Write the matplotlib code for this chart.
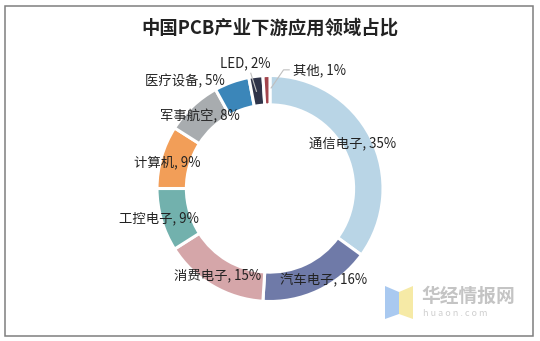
import matplotlib.pyplot as plt
from matplotlib.patches import Polygon, Rectangle

plt.rcParams['font.family'] = ['Noto Sans CJK SC', 'DejaVu Sans']

# 中国PCB下游应用领域占比
sectors = ['通信电子', '汽车电子', '消费电子', '工控电子', '计算机',
           '军事航空', '医疗设备', 'LED', '其他']
shares = [35, 16, 15, 9, 9, 8, 5, 2, 1]
colors = ['#b9d5e6', '#6f7aa8', '#d5a6a9', '#72b1ad', '#f29e58',
          '#a8acaf', '#3b86b9', '#2f3449', '#a2444c']

# label centres in pie units (radius 1 = outer edge)
label_pos = [(0.73, 0.40), (0.47, -0.81), (-0.46, -0.77), (-0.98, -0.26),
             (-0.91, 0.23), (-0.62, 0.64), (-0.75, 0.95), (-0.22, 1.11),
             (0.20, 1.05)]

W, H, dpi = 540, 341, 100
R = 113.0
cx, cy = 270, 188.5

fig = plt.figure(figsize=(W / dpi, H / dpi), dpi=dpi)
ax = fig.add_axes([0, 0, 1, 1])

ax.pie(shares, colors=colors, startangle=90, counterclock=False,
       radius=1.0,
       wedgeprops=dict(width=0.26, edgecolor='white', linewidth=2.2))

# pie() resets the limits, so set them afterwards
ax.set_xlim(-cx / R, (W - cx) / R)
ax.set_ylim(-(H - cy) / R, cy / R)
ax.set_aspect('equal')
ax.axis('off')

for name, val, (lx, ly) in zip(sectors, shares, label_pos):
    ha = 'left' if name == '其他' else 'center'
    ax.text(lx, ly, f'{name}, {val}%', ha=ha, va='center',
            fontsize=9.6, color='#222222')

# leader lines for the two thin slices
ax.plot([-0.12, -0.17], [0.86, 1.02], color='#bfbfbf', lw=0.8)
ax.plot([0.01, 0.12, 0.17], [0.89, 1.05, 1.05], color='#bfbfbf', lw=0.8)

# title
fig.text(0.5, 1 - 28 / H, '中国PCB产业下游应用领域占比', ha='center',
         va='center', fontsize=13.2, fontweight='bold', color='#222222')

# frame
fig.patches.append(Rectangle((5 / W, 5 / H), 528 / W, 330 / H,
                             transform=fig.transFigure, fill=False,
                             edgecolor='#7f7f7f', lw=1.1))

# watermark
fig.patches.append(Polygon([(385 / W, 1 - 286 / H), (399 / W, 1 - 292 / H),
                            (399 / W, 1 - 314 / H), (385 / W, 1 - 319 / H)],
                           closed=True, transform=fig.transFigure,
                           facecolor='#a9c9f0', edgecolor='none'))
fig.patches.append(Polygon([(399 / W, 1 - 292 / H), (413 / W, 1 - 286 / H),
                            (413 / W, 1 - 319 / H), (399 / W, 1 - 314 / H)],
                           closed=True, transform=fig.transFigure,
                           facecolor='#f6eaa6', edgecolor='none'))
fig.text(421 / W, 1 - 296 / H, '华经情报网', ha='left', va='center',
         fontsize=13.5, fontweight='bold', color='#c4c4c4')
fig.text(423 / W, 1 - 313 / H, 'h u a o n . c o m', ha='left',
         va='center', fontsize=6.5, color='#cfcfcf')

fig.savefig('out.png', dpi=dpi, facecolor='white')
